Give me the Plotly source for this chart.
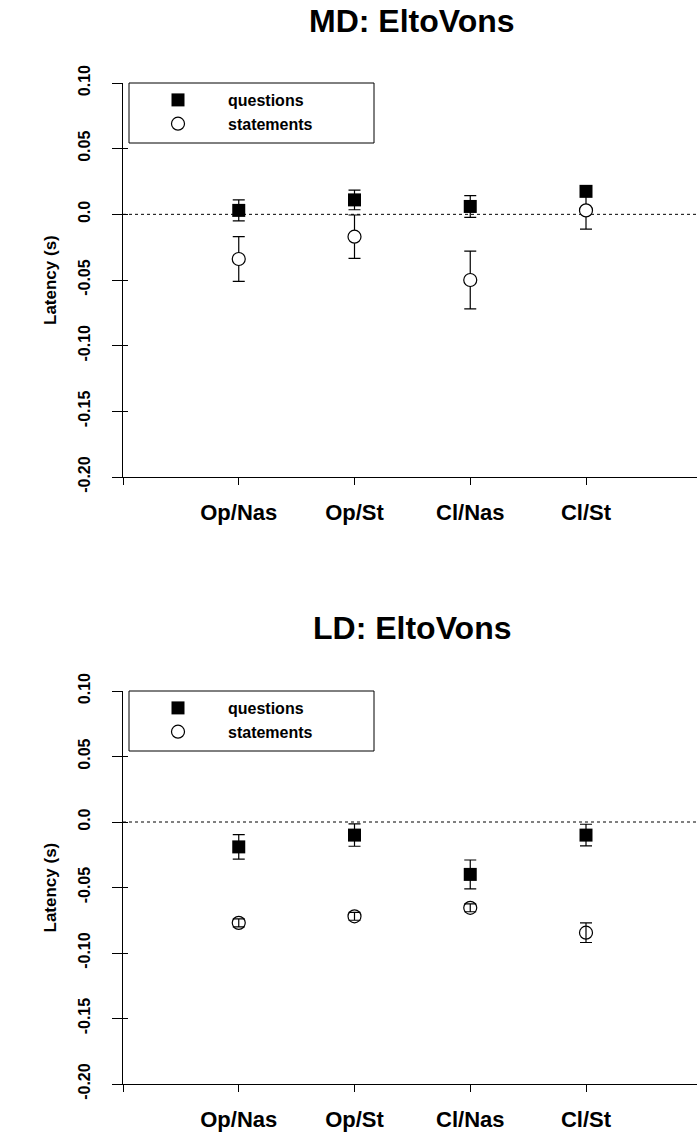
import plotly.graph_objects as go

# ---------------- data ----------------
categories = ["Op/Nas", "Op/St", "Cl/Nas", "Cl/St"]

md_questions = [0.003, 0.011, 0.006, 0.0175]
md_questions_err = [0.008, 0.0075, 0.0083, 0.002]
md_statements = [-0.034, -0.017, -0.050, 0.003]
md_statements_err = [0.017, 0.0165, 0.022, 0.0143]

ld_questions = [-0.019, -0.010, -0.040, -0.010]
ld_questions_err = [0.0093, 0.0085, 0.011, 0.0083]
ld_statements = [-0.077, -0.072, -0.0655, -0.0845]
ld_statements_err = [0.003, 0.003, 0.003, 0.0075]

y_ticks = [-0.20, -0.15, -0.10, -0.05, 0.0, 0.05, 0.10]
y_ticklabels = ["-0.20", "-0.15", "-0.10", "-0.05", "0.0", "0.05", "0.10"]
titles = ["MD: EltoVons", "LD: EltoVons"]

# ---------------- layout helpers ----------------
W, H = 697, 1135
FONT = "Liberation Sans, Arial, Helvetica, sans-serif"


def px_x(p):
    return p / W


def px_y(p):
    return 1 - p / H


xs = list(range(1, len(categories) + 1))
x_tickvals = [0] + xs
x_ticktext = [""] + categories

fig = go.Figure()

panels = [
    dict(q=md_questions, qe=md_questions_err, s=md_statements, se=md_statements_err,
         top=83, bottom=477, xa="x", ya="y", ya_in="y3", legend="legend",
         circ="circle", circ_fill="white", title=titles[0], title_y=21),
    dict(q=ld_questions, qe=ld_questions_err, s=ld_statements, se=ld_statements_err,
         top=691, bottom=1084, xa="x2", ya="y2", ya_in="y4", legend="legend2",
         circ="circle-open", circ_fill="black", title=titles[1], title_y=628),
]

for p in panels:
    fig.add_trace(go.Scatter(
        x=xs, y=p["s"], mode="markers", name="statements",
        xaxis=p["xa"], yaxis=p["ya"], legend=p["legend"], legendrank=2,
        marker=dict(symbol=p["circ"], size=13, color=p["circ_fill"],
                    line=dict(color="black", width=1.2)),
        error_y=dict(type="data", array=p["se"], visible=True, color="black",
                     thickness=1.2, width=6),
    ))
    fig.add_trace(go.Scatter(
        x=xs, y=p["q"], mode="markers", name="questions",
        xaxis=p["xa"], yaxis=p["ya"], legend=p["legend"], legendrank=1,
        marker=dict(symbol="square", size=13, color="black",
                    line=dict(color="black", width=0)),
        error_y=dict(type="data", array=p["qe"], visible=True, color="black",
                     thickness=1.2, width=6),
    ))
    # dummy trace for the inner-tick overlay axis
    fig.add_trace(go.Scatter(x=[1], y=[None], xaxis=p["xa"], yaxis=p["ya_in"],
                             showlegend=False, hoverinfo="skip"))

x_domain = [px_x(123), 1.0]
x_range = [0, (W - 123) / 115.75]

axis_common_x = dict(
    domain=x_domain, range=x_range, showline=True, linecolor="black", linewidth=1,
    ticks="outside", ticklen=7, tickcolor="black", tickwidth=1,
    tickvals=x_tickvals, ticktext=x_ticktext, showgrid=False, zeroline=False,
    tickfont=dict(family=FONT, size=22, color="black", weight="bold"),
    ticklabelstandoff=9, automargin=False,
)


def y_axis(top, bottom, anchor):
    return dict(
        domain=[px_y(bottom), px_y(top)], range=[-0.20, 0.10], anchor=anchor,
        showline=True, linecolor="black", linewidth=1,
        ticks="outside", ticklen=10, tickcolor="black", tickwidth=1,
        tickvals=y_ticks, ticktext=y_ticklabels, tickangle=-90,
        showgrid=False, zeroline=False, automargin=False,
        tickfont=dict(family=FONT, size=16, color="black", weight="bold"),
        ticklabelstandoff=16,
    )


def y_inner(overlay, anchor):
    return dict(
        overlaying=overlay, anchor=anchor, range=[-0.20, 0.10], side="left",
        showline=False, ticks="inside", ticklen=5, tickcolor="black", tickwidth=1,
        tickvals=y_ticks, showticklabels=False, showgrid=False, zeroline=False,
    )


fig.update_layout(
    width=W, height=H, margin=dict(l=0, r=0, t=0, b=0),
    paper_bgcolor="white", plot_bgcolor="white",
    font=dict(family=FONT, color="black"),
    xaxis=dict(anchor="y", **axis_common_x),
    xaxis2=dict(anchor="y2", **axis_common_x),
    yaxis=y_axis(83, 477, "x"),
    yaxis2=y_axis(691, 1084, "x2"),
    yaxis3=y_inner("y", "x"),
    yaxis4=y_inner("y2", "x2"),
    showlegend=True,
)

for p, leg in zip(panels, ["legend", "legend2"]):
    fig.update_layout({leg: dict(
        x=px_x(128), y=px_y(p["top"]), xanchor="left", yanchor="top",
        bgcolor="rgba(0,0,0,0)", borderwidth=0, itemwidth=90,
        font=dict(family=FONT, size=16, color="black", weight="bold"),
    )})
    # legend frame
    fig.add_shape(type="rect", xref="paper", yref="paper",
                  x0=px_x(129), x1=px_x(374), y0=px_y(p["top"] + 60), y1=px_y(p["top"]),
                  line=dict(color="black", width=1), fillcolor="rgba(0,0,0,0)")
    # dotted reference line at zero
    fig.add_shape(type="line", xref=p["xa"] + " domain", yref=p["ya"],
                  x0=0, x1=1, y0=0, y1=0, layer="below",
                  line=dict(color="black", width=1, dash="dot"))
    # panel title
    fig.add_annotation(text="<b>%s</b>" % p["title"], xref="paper", yref="paper",
                       x=px_x(412), y=px_y(p["title_y"]), xanchor="center", yanchor="middle",
                       showarrow=False, font=dict(family=FONT, size=32, color="black"))
    # y-axis title
    fig.add_annotation(text="<b>Latency (s)</b>", xref="paper", yref="paper",
                       x=px_x(50), y=px_y((p["top"] + p["bottom"]) / 2),
                       xanchor="center", yanchor="middle", textangle=-90,
                       showarrow=False, font=dict(family=FONT, size=17, color="black"))

fig.write_html("out.html")
